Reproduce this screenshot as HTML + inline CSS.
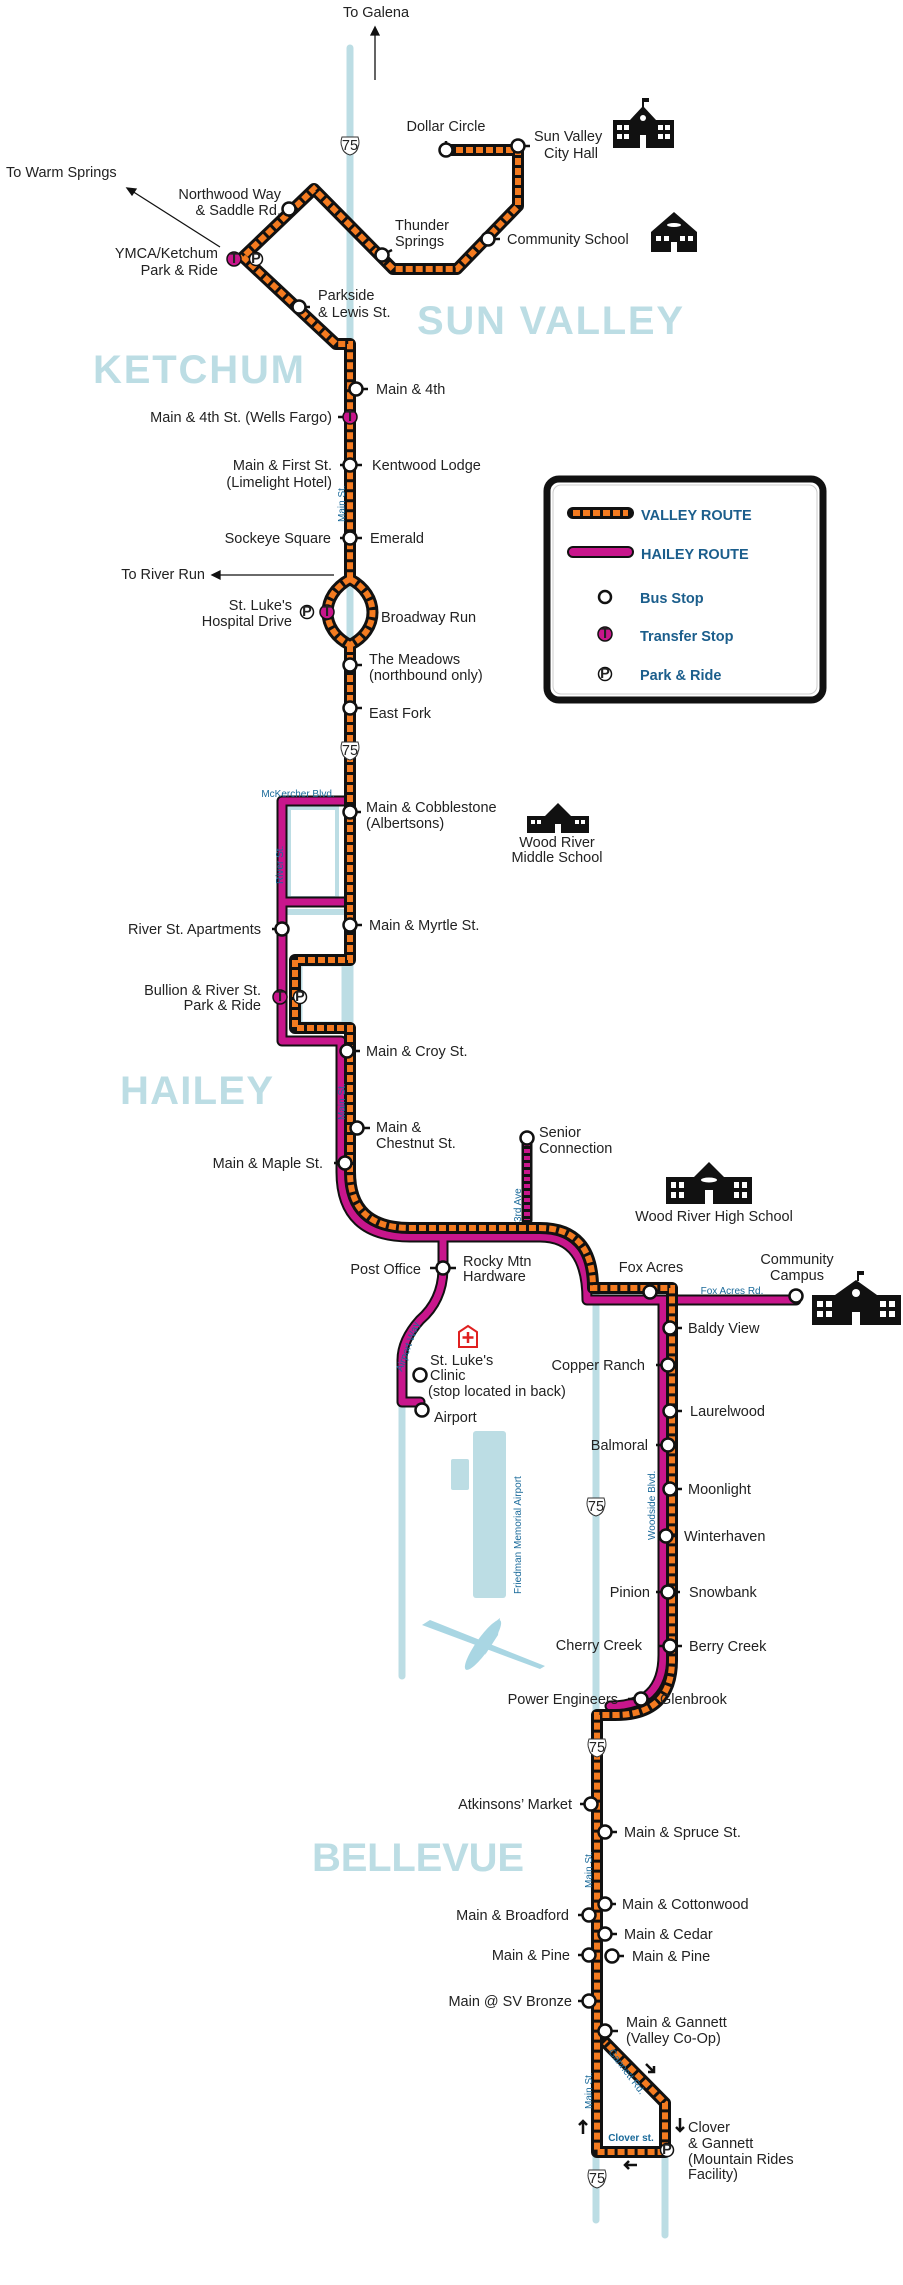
<!DOCTYPE html>
<html><head><meta charset="utf-8"><style>
html,body{margin:0;padding:0;background:#fff}
svg{display:block}
text{font-family:"Liberation Sans",Arial,sans-serif;font-size:14.5px;fill:#222}
.e{text-anchor:end}.m{text-anchor:middle}
.hw{stroke:#bcdde4;stroke-width:7;fill:none;stroke-linecap:round}
.vb{stroke:#111;stroke-width:12;fill:none;stroke-linejoin:round;stroke-linecap:round}
.vo{stroke:#f47b20;stroke-width:6;fill:none;stroke-dasharray:7 3}
.hb{stroke:#111;stroke-width:11;fill:none;stroke-linejoin:round;stroke-linecap:round}
.hm{stroke:#c8168c;stroke-width:7;fill:none;stroke-linejoin:round;stroke-linecap:round}
.s{fill:#fff;stroke:#111;stroke-width:2.5}
.tk{stroke:#111;stroke-width:2.5}
.town{font-family:"Liberation Sans",Arial,sans-serif;font-weight:bold;fill:#bcdde4;font-size:40px}
.st{font-size:10px;fill:#1a6a9a}
.lg{font-weight:bold;fill:#1b5e8c}
</style></head><body>
<svg width="903" height="2285" viewBox="0 0 903 2285" xmlns="http://www.w3.org/2000/svg">
<path class="hw" d="M350,48 V1172 Q350,1232 410,1232 H540 Q596,1232 596,1290 V2220"/>
<path class="hw" d="M665,2152 V2235"/>
<path class="hw" d="M402,1402 V1676"/>
<rect x="473" y="1431" width="33" height="167" rx="3" fill="#bcdde4"/>
<rect x="451" y="1459" width="18" height="31" rx="2" fill="#bcdde4"/>
<rect x="289" y="808" width="48" height="90" fill="#fff" stroke="#bcdde4" stroke-width="4"/>
<rect x="300" y="964" width="44" height="60" fill="#fff" stroke="#bcdde4" stroke-width="5"/>
<path d="M286,912 H346" stroke="#bcdde4" stroke-width="6"/>
<g fill="#a9d6e3">
<path d="M422,1625 L540,1669 L545,1666 L430,1620 Z"/>
<path d="M485,1655 L495,1622 L500,1618 L498,1635 Z"/>
<ellipse cx="483" cy="1645" rx="7" ry="30" transform="rotate(35 483 1645)"/>
</g>
<path class="hb" d="M350,801 H282 V1041 H341 V1172 Q341,1237 410,1237 H540 Q587,1237 587,1300 H796"/>
<path class="hb" d="M282,902 H345"/>
<path class="hb" d="M663,1300 V1655 Q663,1706 610,1706"/>
<path class="hb" d="M443,1237 V1268 Q443,1300 420,1320 Q402,1340 402,1360 V1402 H420"/>
<path class="hb" d="M527,1138 V1220"/>
<path class="hm" d="M350,801 H282 V1041 H341 V1172 Q341,1237 410,1237 H540 Q587,1237 587,1300 H796"/>
<path class="hm" d="M282,902 H345"/>
<path class="hm" d="M663,1300 V1655 Q663,1706 610,1706"/>
<path class="hm" d="M443,1237 V1268 Q443,1300 420,1320 Q402,1340 402,1360 V1402 H420"/>
<path d="M527,1142 V1220" stroke="#c8168c" stroke-width="6" stroke-dasharray="4 3"/>
<path class="vb" d="M446,150 H518 V206 L457,269 H393 L314,189 L243,257 L336,344 H350 V579 M350,579 C320,595 320,630 350,645 M350,579 C380,595 380,630 350,645 M350,645 V960 H295 V1028 H350 V1172 Q350,1228 410,1228 H540 Q593,1228 593,1288 H672 V1660 Q672,1715 615,1715 H597 V2152 H665 V2103 L605,2042"/>
<path class="vo" d="M446,150 H518 V206 L457,269 H393 L314,189 L243,257 L336,344 H350 V579 M350,579 C320,595 320,630 350,645 M350,579 C380,595 380,630 350,645 M350,645 V960 H295 V1028 H350 V1172 Q350,1228 410,1228 H540 Q593,1228 593,1288 H672 V1660 Q672,1715 615,1715 H597 V2152 H665 V2103 L605,2042"/>
<g stroke="#111" stroke-width="1.3" fill="#111">
<line x1="375" y1="80" x2="375" y2="32"/><path d="M375,27 L371,35 L379,35 Z"/>
<line x1="220" y1="247" x2="132" y2="191"/><path d="M127,188 L136,189 L132,195 Z"/>
<line x1="334" y1="575" x2="218" y2="575"/><path d="M212,575 L220,571 L220,579 Z"/>
</g>
<g stroke="#111" stroke-width="2.5" fill="none">
<path d="M646,2064 L654,2072 M654,2066 V2072 H648"/>
<path d="M680,2118 V2131 M676,2127 L680,2131 L684,2127"/>
<path d="M583,2134 V2121 M579,2125 L583,2121 L587,2125"/>
<path d="M637,2165 H625 M629,2161 L625,2165 L629,2169"/>
</g>
<g font-size="11" stroke="#333" stroke-width="1">
<path d="M342,137 h16 q2,6 0,10 q-1,6 -8,8 q-7,-2 -8,-8 q-2,-4 0,-10Z" fill="#fff"/><text x="350" y="150" class="m" font-size="11" stroke="none">75</text>
<path d="M342,742 h16 q2,6 0,10 q-1,6 -8,8 q-7,-2 -8,-8 q-2,-4 0,-10Z" fill="#fff"/><text x="350" y="755" class="m" font-size="11" stroke="none">75</text>
<path d="M588,1498 h16 q2,6 0,10 q-1,6 -8,8 q-7,-2 -8,-8 q-2,-4 0,-10Z" fill="#fff"/><text x="596" y="1511" class="m" font-size="11" stroke="none">75</text>
<path d="M589,1739 h16 q2,6 0,10 q-1,6 -8,8 q-7,-2 -8,-8 q-2,-4 0,-10Z" fill="#fff"/><text x="597" y="1752" class="m" font-size="11" stroke="none">75</text>
<path d="M589,2170 h16 q2,6 0,10 q-1,6 -8,8 q-7,-2 -8,-8 q-2,-4 0,-10Z" fill="#fff"/><text x="597" y="2183" class="m" font-size="11" stroke="none">75</text>
</g>
<g class="tk">
<path d="M446,150 V141 M518,146 H530 M289,209 H282 M382,255 L392,250 M488,239 H500 M299,307 H310 M356,389 H368 M350,417 H338 M350,465 H340 M350,465 H362 M350,538 H340 M350,538 H362 M350,665 H362 M350,708 H362"/>
<path d="M350,812 H361 M282,929 H272 M350,925 H362 M347,1051 H360 M357,1128 H370 M345,1163 H334 M443,1268 H430 M443,1268 H456 M650,1292 V1285 M670,1328 H682 M668,1365 H656 M670,1411 H682 M668,1445 H656 M670,1489 H682 M666,1536 H678 M668,1592 H656 M668,1592 H680 M670,1646 H658 M670,1646 H682 M641,1699 H628 M641,1699 H653"/>
<path d="M591,1804 H580 M605,1832 H617 M605,1904 H616 M589,1915 H578 M605,1934 H617 M589,1955 H578 M612,1956 H624 M589,2001 H578 M605,2031 H618"/>
</g>
<g class="s">
<circle cx="446" cy="150" r="6.5"/><circle cx="518" cy="146" r="6.5"/><circle cx="289" cy="209" r="6.5"/><circle cx="382" cy="255" r="6.5"/><circle cx="488" cy="239" r="6.5"/><circle cx="299" cy="307" r="6.5"/><circle cx="356" cy="389" r="6.5"/><circle cx="350" cy="465" r="6.5"/><circle cx="350" cy="538" r="6.5"/><circle cx="350" cy="665" r="6.5"/><circle cx="350" cy="708" r="6.5"/>
<circle cx="350" cy="812" r="6.5"/><circle cx="282" cy="929" r="6.5"/><circle cx="350" cy="925" r="6.5"/><circle cx="347" cy="1051" r="6.5"/><circle cx="357" cy="1128" r="6.5"/><circle cx="345" cy="1163" r="6.5"/><circle cx="527" cy="1138" r="6.5"/><circle cx="443" cy="1268" r="6.5"/><circle cx="420" cy="1375" r="6.5"/><circle cx="422" cy="1410" r="6.5"/><circle cx="650" cy="1292" r="6.5"/><circle cx="796" cy="1296" r="6.5"/>
<circle cx="670" cy="1328" r="6.5"/><circle cx="668" cy="1365" r="6.5"/><circle cx="670" cy="1411" r="6.5"/><circle cx="668" cy="1445" r="6.5"/><circle cx="670" cy="1489" r="6.5"/><circle cx="666" cy="1536" r="6.5"/><circle cx="668" cy="1592" r="6.5"/><circle cx="670" cy="1646" r="6.5"/><circle cx="641" cy="1699" r="6.5"/>
<circle cx="591" cy="1804" r="6.5"/><circle cx="605" cy="1832" r="6.5"/><circle cx="605" cy="1904" r="6.5"/><circle cx="589" cy="1915" r="6.5"/><circle cx="605" cy="1934" r="6.5"/><circle cx="589" cy="1955" r="6.5"/><circle cx="612" cy="1956" r="6.5"/><circle cx="589" cy="2001" r="6.5"/><circle cx="605" cy="2031" r="6.5"/>
</g>
<g>
<circle cx="234" cy="259" r="7" fill="#c8168c" stroke="#111" stroke-width="1.5"/><text x="234" y="263" class="m" font-size="10" font-weight="bold" fill="#111">T</text>
<circle cx="256" cy="259" r="6.5" fill="#fff" stroke="#111" stroke-width="1.5"/><text x="256" y="263" class="m" font-size="10" font-weight="bold">P</text>
<circle cx="350" cy="417" r="7" fill="#c8168c" stroke="#111" stroke-width="1.5"/><text x="350" y="421" class="m" font-size="10" font-weight="bold" fill="#111">T</text>
<circle cx="327" cy="612" r="7" fill="#c8168c" stroke="#111" stroke-width="1.5"/><text x="327" y="616" class="m" font-size="10" font-weight="bold" fill="#111">T</text>
<circle cx="307" cy="612" r="6.5" fill="#fff" stroke="#111" stroke-width="1.5"/><text x="307" y="616" class="m" font-size="10" font-weight="bold">P</text>
<circle cx="280" cy="997" r="7" fill="#c8168c" stroke="#111" stroke-width="1.5"/><text x="280" y="1001" class="m" font-size="10" font-weight="bold" fill="#111">T</text>
<circle cx="300" cy="997" r="6.5" fill="#fff" stroke="#111" stroke-width="1.5"/><text x="300" y="1001" class="m" font-size="10" font-weight="bold">P</text>
<circle cx="667" cy="2150" r="6.5" fill="#fff" stroke="#111" stroke-width="1.5"/><text x="667" y="2154" class="m" font-size="10" font-weight="bold">P</text>
</g>
<text x="417" y="334" class="town" textLength="266">SUN VALLEY</text>
<text x="93" y="383" class="town" textLength="211">KETCHUM</text>
<text x="120" y="1104" class="town" textLength="153">HAILEY</text>
<text x="312" y="1871" class="town" textLength="212">BELLEVUE</text>
<text x="298" y="797" class="st m">McKercher Blvd.</text>
<text class="st" transform="translate(283,884) rotate(-90)">River St.</text>
<text class="st" transform="translate(345,522) rotate(-90)">Main St.</text>
<text class="st" transform="translate(345,1120) rotate(-90)">Main St.</text>
<text class="st" transform="translate(521,1222) rotate(-90)">3rd Ave</text>
<text class="st" transform="translate(402,1372) rotate(-70)">Airport Way</text>
<text x="732" y="1294" class="st m">Fox Acres Rd.</text>
<text class="st" transform="translate(655,1540) rotate(-90)">Woodside Blvd.</text>
<text class="st" transform="translate(521,1594) rotate(-90)">Friedman Memorial Airport</text>
<text class="st" transform="translate(592,1888) rotate(-90)">Main St.</text>
<text class="st" transform="translate(592,2109) rotate(-90)">Main St.</text>
<text class="st" transform="translate(608,2052) rotate(53)">Gannett Rd.</text>
<text x="631" y="2141" class="st m" font-weight="bold">Clover st.</text>
<text x="376" y="17" class="m">To Galena</text>
<text x="6" y="177">To Warm Springs</text>
<text x="205" y="579" class="e">To River Run</text>
<text x="446" y="131" class="m">Dollar Circle</text>
<text x="534" y="141">Sun Valley</text><text x="544" y="158">City Hall</text>
<text x="281" y="199" class="e">Northwood Way</text><text x="281" y="215" class="e">&amp; Saddle Rd.</text>
<text x="218" y="258" class="e">YMCA/Ketchum</text><text x="218" y="275" class="e">Park &amp; Ride</text>
<text x="395" y="230">Thunder</text><text x="395" y="246">Springs</text>
<text x="507" y="244">Community School</text>
<text x="318" y="300">Parkside</text><text x="318" y="317">&amp; Lewis St.</text>
<text x="376" y="394">Main &amp; 4th</text>
<text x="332" y="422" class="e">Main &amp; 4th St. (Wells Fargo)</text>
<text x="372" y="470">Kentwood Lodge</text>
<text x="332" y="470" class="e">Main &amp; First St.</text><text x="332" y="487" class="e">(Limelight Hotel)</text>
<text x="370" y="543">Emerald</text>
<text x="331" y="543" class="e">Sockeye Square</text>
<text x="292" y="610" class="e">St. Luke's</text><text x="292" y="626" class="e">Hospital Drive</text>
<text x="381" y="622">Broadway Run</text>
<text x="369" y="664">The Meadows</text><text x="369" y="680">(northbound only)</text>
<text x="369" y="718">East Fork</text>
<text x="366" y="812">Main &amp; Cobblestone</text><text x="366" y="828">(Albertsons)</text>
<text x="557" y="847" class="m">Wood River</text><text x="557" y="862" class="m">Middle School</text>
<text x="261" y="934" class="e">River St. Apartments</text>
<text x="369" y="930">Main &amp; Myrtle St.</text>
<text x="261" y="995" class="e">Bullion &amp; River St.</text><text x="261" y="1010" class="e">Park &amp; Ride</text>
<text x="366" y="1056">Main &amp; Croy St.</text>
<text x="376" y="1132">Main &amp;</text><text x="376" y="1148">Chestnut St.</text>
<text x="323" y="1168" class="e">Main &amp; Maple St.</text>
<text x="539" y="1137">Senior</text><text x="539" y="1153">Connection</text>
<text x="714" y="1221" class="m">Wood River High School</text>
<text x="421" y="1274" class="e">Post Office</text>
<text x="463" y="1266">Rocky Mtn</text><text x="463" y="1281">Hardware</text>
<text x="651" y="1272" class="m">Fox Acres</text>
<text x="797" y="1264" class="m">Community</text><text x="797" y="1280" class="m">Campus</text>
<text x="430" y="1365">St. Luke's</text><text x="430" y="1380">Clinic</text><text x="428" y="1396">(stop located in back)</text>
<text x="434" y="1422">Airport</text>
<text x="688" y="1333">Baldy View</text>
<text x="645" y="1370" class="e">Copper Ranch</text>
<text x="690" y="1416">Laurelwood</text>
<text x="648" y="1450" class="e">Balmoral</text>
<text x="688" y="1494">Moonlight</text>
<text x="684" y="1541">Winterhaven</text>
<text x="650" y="1597" class="e">Pinion</text><text x="689" y="1597">Snowbank</text>
<text x="642" y="1650" class="e">Cherry Creek</text><text x="689" y="1651">Berry Creek</text>
<text x="618" y="1704" class="e">Power Engineers</text><text x="660" y="1704">Glenbrook</text>
<text x="572" y="1809" class="e">Atkinsons’ Market</text>
<text x="624" y="1837">Main &amp; Spruce St.</text>
<text x="622" y="1909">Main &amp; Cottonwood</text>
<text x="569" y="1920" class="e">Main &amp; Broadford</text>
<text x="624" y="1939">Main &amp; Cedar</text>
<text x="570" y="1960" class="e">Main &amp; Pine</text><text x="632" y="1961">Main &amp; Pine</text>
<text x="572" y="2006" class="e">Main @ SV Bronze</text>
<text x="626" y="2027">Main &amp; Gannett</text><text x="626" y="2043">(Valley Co-Op)</text>
<text x="688" y="2132">Clover</text><text x="688" y="2148">&amp; Gannett</text><text x="688" y="2164">(Mountain Rides</text><text x="688" y="2179">Facility)</text>
<path d="M459,1332 L468,1326 L477,1332 V1347 H459 Z" fill="#fff" stroke="#e02020" stroke-width="2"/>
<path d="M468,1332 V1343 M462.5,1337.5 H473.5" stroke="#e02020" stroke-width="2.5"/>
<g fill="#111">
<rect x="613" y="120" width="61" height="28"/><path d="M630,120 L643,106 L656,120 Z"/><rect x="642" y="98" width="2" height="10"/><rect x="643" y="98" width="6" height="4"/>
<g fill="#fff"><rect x="617" y="125" width="5" height="5"/><rect x="624" y="125" width="5" height="5"/><rect x="617" y="134" width="5" height="5"/><rect x="624" y="134" width="5" height="5"/><rect x="658" y="125" width="5" height="5"/><rect x="665" y="125" width="5" height="5"/><rect x="658" y="134" width="5" height="5"/><rect x="665" y="134" width="5" height="5"/><circle cx="643" cy="118" r="3"/><rect x="640" y="135" width="6" height="13"/></g>
<path d="M651,232 L674,212 L697,232 V252 H651 Z"/>
<g fill="#fff"><rect x="656" y="236" width="5" height="5"/><rect x="664" y="236" width="5" height="5"/><rect x="680" y="236" width="5" height="5"/><rect x="688" y="236" width="5" height="5"/><rect x="671" y="242" width="6" height="10"/><ellipse cx="674" cy="225" rx="7" ry="2"/></g>
<rect x="527" y="816" width="62" height="17"/><path d="M545,816 L558,803 L571,816 Z"/>
<g fill="#fff"><rect x="531" y="820" width="4" height="4"/><rect x="537" y="820" width="4" height="4"/><rect x="575" y="820" width="4" height="4"/><rect x="581" y="820" width="4" height="4"/><rect x="555" y="824" width="6" height="9"/></g>
<rect x="666" y="1177" width="86" height="27"/><path d="M694,1177 L709,1162 L724,1177 Z"/>
<g fill="#fff"><rect x="671" y="1182" width="5" height="6"/><rect x="679" y="1182" width="5" height="6"/><rect x="671" y="1192" width="5" height="6"/><rect x="679" y="1192" width="5" height="6"/><rect x="734" y="1182" width="5" height="6"/><rect x="742" y="1182" width="5" height="6"/><rect x="734" y="1192" width="5" height="6"/><rect x="742" y="1192" width="5" height="6"/><rect x="705" y="1190" width="8" height="14"/><ellipse cx="709" cy="1180" rx="8" ry="2.5"/></g>
<rect x="812" y="1295" width="89" height="30"/><path d="M835,1295 L856,1280 L877,1295 Z"/><rect x="857" y="1271" width="2" height="10"/><rect x="858" y="1271" width="6" height="4"/>
<g fill="#fff"><rect x="817" y="1301" width="6" height="6"/><rect x="826" y="1301" width="6" height="6"/><rect x="817" y="1311" width="6" height="6"/><rect x="826" y="1311" width="6" height="6"/><rect x="880" y="1301" width="6" height="6"/><rect x="889" y="1301" width="6" height="6"/><rect x="880" y="1311" width="6" height="6"/><rect x="889" y="1311" width="6" height="6"/><circle cx="856" cy="1293" r="4"/><rect x="852" y="1312" width="8" height="13"/></g>
</g>
<rect x="547" y="479" width="276" height="221" rx="12" fill="#fff" stroke="#111" stroke-width="7"/>
<rect x="553" y="485" width="264" height="209" rx="8" fill="none" stroke="#ccc" stroke-width="1"/>
<path d="M573,513 H628" stroke="#111" stroke-width="12" stroke-linecap="round"/>
<path d="M573,513 H628" stroke="#f47b20" stroke-width="6" stroke-dasharray="7 3"/>
<path d="M573,552 H628" stroke="#111" stroke-width="12" stroke-linecap="round"/>
<path d="M573,552 H628" stroke="#c8168c" stroke-width="8" stroke-linecap="round"/>
<text x="641" y="520" class="lg" font-size="21">VALLEY ROUTE</text>
<text x="641" y="559" class="lg" font-size="21">HAILEY ROUTE</text>
<circle cx="605" cy="597" r="6" fill="#fff" stroke="#111" stroke-width="2.5"/>
<circle cx="605" cy="634" r="7" fill="#c8168c" stroke="#111" stroke-width="1.5"/><text x="605" y="638" class="m" font-size="10" font-weight="bold">T</text>
<circle cx="605" cy="674" r="6.5" fill="#fff" stroke="#111" stroke-width="1.5"/><text x="605" y="678" class="m" font-size="10" font-weight="bold">P</text>
<text x="640" y="603" class="lg" font-size="15">Bus Stop</text>
<text x="640" y="641" class="lg" font-size="15">Transfer Stop</text>
<text x="640" y="680" class="lg" font-size="15">Park &amp; Ride</text>
</svg>
</body></html>
